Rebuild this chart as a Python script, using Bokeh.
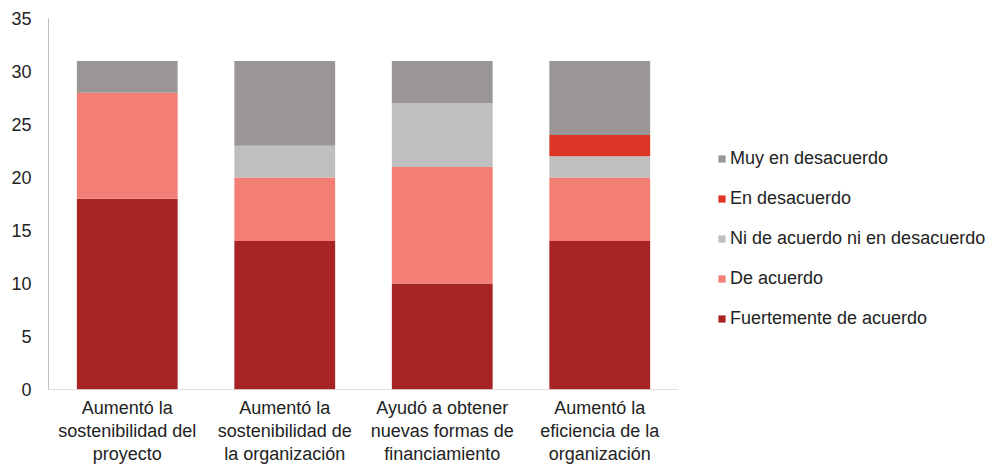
from bokeh.plotting import figure
from bokeh.models import Legend, LegendItem, Range1d, FixedTicker
from bokeh.embed import file_html
from bokeh.resources import INLINE

categories = [
    "Aumentó la\nsostenibilidad del\nproyecto",
    "Aumentó la\nsostenibilidad de\nla organización",
    "Ayudó a obtener\nnuevas formas de\nfinanciamiento",
    "Aumentó la\neficiencia de la\norganización",
]
series_names = ["Fuertemente de acuerdo", "De acuerdo", "Ni de acuerdo ni en desacuerdo",
                "En desacuerdo", "Muy en desacuerdo"]
fuertemente = [18, 14, 10, 14]
de_acuerdo = [10, 6, 11, 6]
ni_ni = [0, 3, 6, 2]
en_desacuerdo = [0, 0, 0, 2]
muy_desacuerdo = [3, 8, 4, 7]
colors = ["#A82324", "#F27E76", "#BFBFBF", "#DE3626", "#9A9695"]
y_ticks = [0, 5, 10, 15, 20, 25, 30, 35]

n = len(categories)
xpos = [i + 0.5 for i in range(n)]
keys = ["f", "d", "n", "e", "m"]
data = dict(x=xpos, f=fuertemente, d=de_acuerdo, n=ni_ni, e=en_desacuerdo, m=muy_desacuerdo)

W, H = 990, 466
left, top, bottom = 48, 18, 76
cat_px = 157.5
p = figure(x_range=Range1d(0, (W - left) / cat_px), y_range=Range1d(0, 35),
           width=W, height=H, output_backend="svg", toolbar_location=None,
           min_border_left=left, min_border_right=0, min_border_top=top, min_border_bottom=bottom)
p.outline_line_color = None
p.grid.visible = False

rs = p.vbar_stack(keys, x="x", width=0.64, color=colors, line_color=None, source=data)
p.segment(x0=[0], y0=[0], x1=[n], y1=[0], line_color="#BFBFBF", line_width=1)

font = "Liberation Sans"
for ax in (p.xaxis[0], p.yaxis[0]):
    ax.major_tick_line_color = None
    ax.minor_tick_line_color = None
    ax.major_label_text_font = font
    ax.major_label_text_font_size = "18px"
    ax.major_label_text_color = "#222222"
p.yaxis[0].axis_line_color = "#BFBFBF"
p.xaxis[0].axis_line_color = None
p.yaxis[0].ticker = y_ticks
p.yaxis[0].major_label_standoff = 11
p.xaxis[0].ticker = FixedTicker(ticks=xpos)
p.xaxis[0].major_label_overrides = {x: c for x, c in zip(xpos, categories)}
p.xaxis[0].major_label_standoff = 2
p.xaxis[0].major_label_text_line_height = 1.15

items = [LegendItem(label=series_names[i], renderers=[rs[i]]) for i in reversed(range(5))]
legend = Legend(items=items, location=(669, 60), orientation="vertical",
                label_text_font=font, label_text_font_size="18px", label_text_color="#222222",
                glyph_width=9, glyph_height=9, label_standoff=4, spacing=19, label_height=21,
                padding=0, margin=0, border_line_color=None, background_fill_alpha=0)
p.add_layout(legend, "center")

open("out.html", "w").write(file_html(p, INLINE))
